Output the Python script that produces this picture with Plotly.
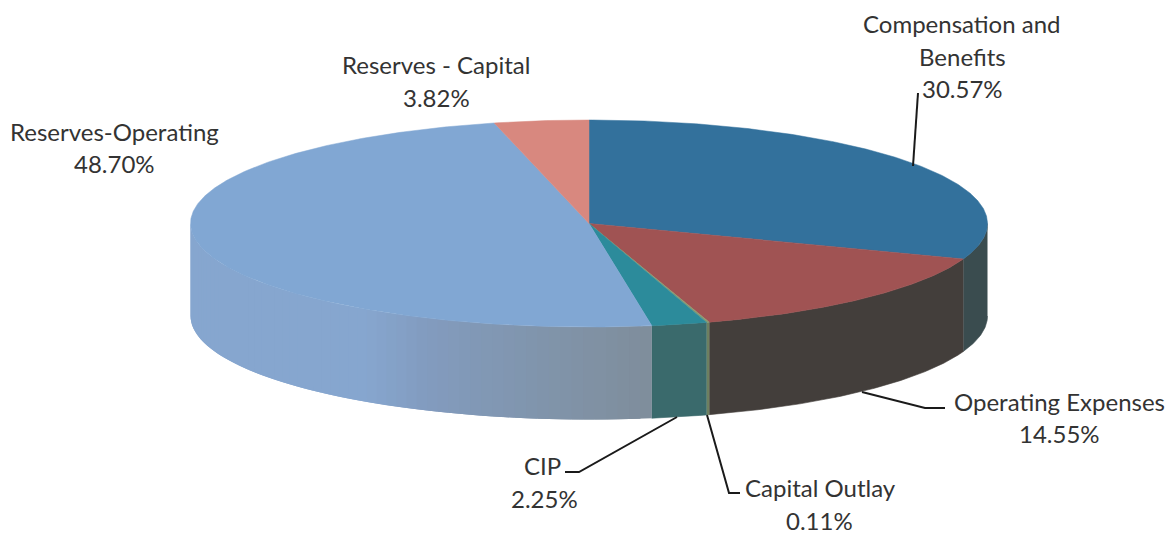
import math
import plotly.graph_objects as go

# Data, clockwise from 12 o'clock
categories = ["Compensation and Benefits", "Operating Expenses", "Capital Outlay", "CIP",
              "Reserves-Operating", "Reserves - Capital"]
values = [30.57, 14.55, 0.11, 2.25, 48.70, 3.82]
top_colors = ["#33719C", "#A05353", "#8A9A70", "#2C8B9B", "#81A7D3", "#D8887F"]
side_colors = ["#3A4C4F", "#433E3B", "#6F8060", "#3A6A6C", None, "#B07068"]
# side shading of the large slice: (fraction across the pie width, colour)
gradient_x = [0.0, 0.22, 0.30, 0.45, 0.60, 1.0]
gradient_rgb = [(134, 166, 207), (134, 166, 207), (130, 155, 190), (128, 148, 170), (127, 140, 153), (127, 140, 153)]

label_lines = [
    (["Compensation and", "Benefits"], 962, [23, 56], 962, 88),
    (["Operating Expenses"], 1059, [401], 1059, 433),
    (["Capital Outlay"], 820, [487], 819, 520),
    (["CIP"], 542, [465], 544, 498),
    (["Reserves-Operating"], 114, [131], 114, 163),
    (["Reserves - Capital"], 436, [64], 436, 97),
]
leaders = [
    ([913, 918], [166, 93]),
    ([862, 925, 945], [392, 408, 408]),
    ([707, 729, 740], [415, 493, 493]),
    ([677, 579, 565], [417, 472, 472]),
]

# Projection of the tilted pie
CX, CY, RX, RY, DEPTH = 589, 223.5, 398.5, 103.5, 92.5
TEXT = "#333333"


def point(theta_deg, dy=0.0):
    t = math.radians(theta_deg)
    return CX + RX * math.sin(t), CY - RY * math.cos(t) + dy


def gradient_colour(x):
    f = (x - (CX - RX)) / (2 * RX)
    for i in range(len(gradient_x) - 1):
        if gradient_x[i] <= f <= gradient_x[i + 1]:
            k = (f - gradient_x[i]) / (gradient_x[i + 1] - gradient_x[i])
            c = [round(a + (b - a) * k) for a, b in zip(gradient_rgb[i], gradient_rgb[i + 1])]
            return f"rgb({c[0]},{c[1]},{c[2]})"
    return "rgb(127,140,153)"


fig = go.Figure()


def poly(xs, ys, colour, lw=0.8):
    fig.add_trace(go.Scatter(x=xs, y=ys, mode="lines", fill="toself", fillcolor=colour,
                             line=dict(color=colour, width=lw), hoverinfo="skip", showlegend=False))


# Slice angles derived from the values
total = sum(values)
angles = [0.0]
for v in values:
    angles.append(angles[-1] + v / total * 360)

# Side wall: only the front half (90..270 degrees) is visible
for i in range(len(values)):
    a0, a1 = max(angles[i], 90), min(angles[i + 1], 270)
    if a1 <= a0:
        continue
    if side_colors[i] is not None:
        n = max(2, int((a1 - a0) * 2))
        th = [a0 + (a1 - a0) * k / n for k in range(n + 1)]
        up = [point(t) for t in th]
        lo = [point(t, DEPTH) for t in reversed(th)]
        poly([p[0] for p in up + lo], [p[1] for p in up + lo], side_colors[i], 0.6)
    else:
        # painted from the right rim towards the left, each strip overlapping the next: no seams
        n = 60
        step = (a1 - a0) / n
        for k in range(n):
            t0 = a0 + step * k
            t1 = min(a1, t0 + step * 2)
            th = [t0 + (t1 - t0) * j / 6 for j in range(7)]
            up = [point(t) for t in th]
            lo = [point(t, DEPTH) for t in reversed(th)]
            colour = gradient_colour(point(t0 + step / 2)[0])
            poly([p[0] for p in up + lo], [p[1] for p in up + lo], colour, 0)

# Top wedges
for i in range(len(values)):
    a0, a1 = angles[i], angles[i + 1]
    n = max(2, int((a1 - a0) * 2))
    rim = [point(a0 + (a1 - a0) * k / n) for k in range(n + 1)]
    xs = [CX] + [p[0] for p in rim] + [CX]
    ys = [CY] + [p[1] for p in rim] + [CY]
    poly(xs, ys, top_colors[i], 0.5)

# Leader lines
for lx, ly in leaders:
    fig.add_trace(go.Scatter(x=lx, y=ly, mode="lines", line=dict(color="#1A1A1A", width=2),
                             hoverinfo="skip", showlegend=False))


def label(text, x, y):
    fig.add_annotation(x=x, y=y, text=text, showarrow=False, xanchor="center", yanchor="middle",
                       font=dict(family="Lato, Carlito, sans-serif", size=24, color=TEXT))


for i, (lines, lx, lys, vx, vy) in enumerate(label_lines):
    for text, y in zip(lines, lys):
        label(text, lx, y)
    label(f"{values[i]:.2f}%", vx, vy)

fig.update_layout(
    width=1175, height=534, margin=dict(l=0, r=0, t=0, b=0),
    paper_bgcolor="#FFFFFF", plot_bgcolor="#FFFFFF", showlegend=False,
    xaxis=dict(range=[0, 1175], visible=False, fixedrange=True),
    yaxis=dict(range=[534, 0], visible=False, fixedrange=True),
)
fig.write_html("out.html", config={"displayModeBar": False},
               post_script="document.body.style.margin='0';document.body.style.overflow='hidden';")
